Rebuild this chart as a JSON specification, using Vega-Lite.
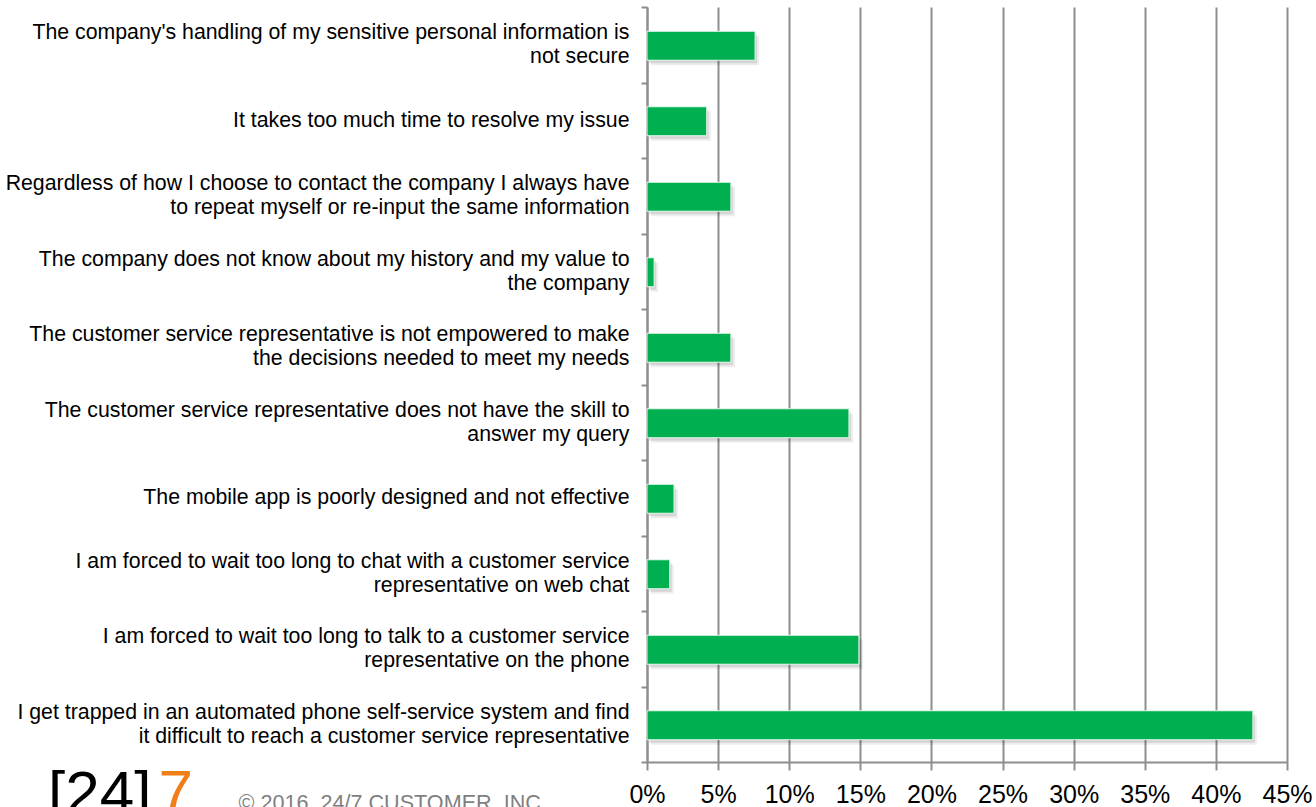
{
  "$schema": "https://vega.github.io/schema/vega-lite/v6.json",
  "width": 640,
  "height": 755,
  "autosize": {"type": "none"},
  "padding": {"left": 647, "top": 7, "right": 29, "bottom": 45},
  "background": "white",
  "config": {"view": {"stroke": null}, "font": "Liberation Sans"},
  "title": {
    "text": "[24]",
    "orient": "bottom",
    "anchor": "start",
    "frame": "group",
    "baseline": "alphabetic",
    "offset": 0,
    "dx": -599,
    "dy": -10,
    "fontSize": 62,
    "fontWeight": "normal",
    "font": "Liberation Sans",
    "color": "#000000"
  },
  "data": {
    "values": [
      {"reason": "The company's handling of my sensitive personal information is|not secure", "pct": 7.6},
      {"reason": "It takes too much time to resolve my issue", "pct": 4.2},
      {"reason": "Regardless of how I choose to contact the company I always have|to repeat myself or re-input the same information", "pct": 5.9},
      {"reason": "The company does not know about my history and my value to|the company", "pct": 0.5},
      {"reason": "The customer service representative is not empowered to make|the decisions needed to meet my needs", "pct": 5.9},
      {"reason": "The customer service representative does not have the skill to|answer my query", "pct": 14.2},
      {"reason": "The mobile app is poorly designed and not effective", "pct": 1.9},
      {"reason": "I am forced to wait too long to chat with a customer service|representative on web chat", "pct": 1.6},
      {"reason": "I am forced to wait too long to talk to a customer service|representative on the phone", "pct": 14.9},
      {"reason": "I get trapped in an automated phone self-service system and find|it difficult to reach a customer service representative", "pct": 42.6}
    ]
  },
  "encoding": {
    "y": {
      "field": "reason",
      "type": "nominal",
      "sort": null,
      "scale": {"paddingInner": 0, "paddingOuter": 0},
      "axis": {
        "domain": true,
        "domainColor": "#8e8e8e",
        "domainWidth": 2,
        "ticks": true,
        "tickBand": "extent",
        "tickSize": 6,
        "tickWidth": 2,
        "tickColor": "#8e8e8e",
        "grid": false,
        "labelFontSize": 21.3,
        "labelColor": "#000000",
        "labelPadding": 12,
        "labelLimit": 700,
        "labelLineHeight": 24,
        "labelExpr": "isString(datum.value) ? split(datum.value, '|') : ''",
        "labelOffset": {"expr": "isString(datum.value) && indexof(datum.value, '|') >= 0 ? -12 : 0"},
        "title": "7",
        "titleAngle": 0,
        "titleAlign": "left",
        "titleBaseline": "alphabetic",
        "titleX": -489,
        "titleY": 805,
        "titleFontSize": 62,
        "titleFontWeight": "normal",
        "titleColor": "#F07F19"
      }
    },
    "x": {
      "field": "pct",
      "type": "quantitative",
      "scale": {"domain": [0, 45], "nice": false},
      "axis": {
        "values": [0, 5, 10, 15, 20, 25, 30, 35, 40, 45],
        "labelExpr": "datum.value + '%'",
        "labelFlush": false,
        "grid": true,
        "gridColor": "#8e8e8e",
        "gridWidth": 2,
        "domainColor": "#8e8e8e",
        "domainWidth": 2,
        "tickColor": "#8e8e8e",
        "tickWidth": 2,
        "tickSize": 8,
        "labelFontSize": 25,
        "labelColor": "#000000",
        "labelPadding": 12,
        "title": "© 2016, 24/7 CUSTOMER, INC.",
        "titleAlign": "left",
        "titleBaseline": "alphabetic",
        "titleX": -409,
        "titleY": 47,
        "titleFontSize": 21.6,
        "titleFontWeight": "normal",
        "titleColor": "#7f7f7f"
      }
    }
  },
  "layer": [
    {"mark": {"type": "bar", "height": {"band": 0.384}, "fill": "#000000", "opacity": 0.07, "xOffset": 4, "yOffset": 6}},
    {"mark": {"type": "bar", "height": {"band": 0.384}, "fill": "#000000", "opacity": 0.1, "xOffset": 2, "yOffset": 4}},
    {"mark": {"type": "bar", "height": {"band": 0.384}, "fill": "#00B050", "stroke": "#e8f7ee", "strokeWidth": 1, "yOffset": 1}}
  ]
}
